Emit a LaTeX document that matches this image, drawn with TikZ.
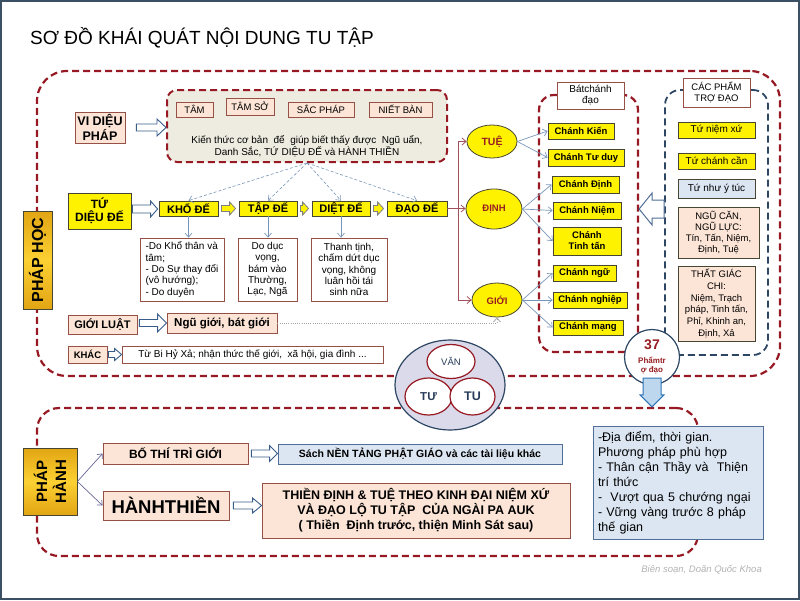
\documentclass[tikz,border=0pt]{standalone}
\usepackage{fontspec}
\setmainfont{Liberation Sans}
\usetikzlibrary{calc,shapes.geometric,arrows.meta}
\definecolor{dred}{RGB}{150,25,35}
\definecolor{peach}{RGB}{252,228,214}
\definecolor{pbrd}{RGB}{150,80,70}
\definecolor{ybrd}{RGB}{70,70,50}
\definecolor{lblue}{RGB}{220,230,242}
\definecolor{bbrd}{RGB}{80,110,150}
\definecolor{navy}{RGB}{45,70,100}
\definecolor{ablue}{RGB}{56,93,138}
\definecolor{agray}{RGB}{120,150,185}
\definecolor{mauve}{RGB}{160,80,90}
\definecolor{innerfill}{RGB}{238,236,225}
\definecolor{lav}{RGB}{218,218,234}
\definecolor{gold1}{RGB}{226,165,20}
\definecolor{gold2}{RGB}{252,208,50}
\definecolor{frameblue}{RGB}{60,80,100}
\definecolor{txtred}{RGB}{150,30,35}
\definecolor{txtblue}{RGB}{40,60,90}
\definecolor{arrlb}{RGB}{189,215,238}
\definecolor{arrlbd}{RGB}{46,117,182}
\newcommand\fsz[2]{\fontsize{#1}{#2}\selectfont}
% hollow block arrows: [style]{from}{to}{shaft half}{head half}{head length}
\newcommand\hollowR[6][]{%
  \draw[#1] let \p1=#2, \p2=#3 in
  (\x1,{\y1+#4}) -- ({\x2-#6},{\y1+#4}) -- ({\x2-#6},{\y1+#5}) -- (\x2,\y1)
  -- ({\x2-#6},{\y1-#5}) -- ({\x2-#6},{\y1-#4}) -- (\x1,{\y1-#4}) -- cycle;}
\newcommand\hollowL[6][]{%
  \draw[#1] let \p1=#2, \p2=#3 in
  (\x1,{\y1+#4}) -- ({\x2+#6},{\y1+#4}) -- ({\x2+#6},{\y1+#5}) -- (\x2,\y1)
  -- ({\x2+#6},{\y1-#5}) -- ({\x2+#6},{\y1-#4}) -- (\x1,{\y1-#4}) -- cycle;}
\newcommand\hollowD[6][]{%
  \draw[#1] let \p1=#2, \p2=#3 in
  ({\x1-#4},\y1) -- ({\x1-#4},{\y2+#6}) -- ({\x1-#5},{\y2+#6}) -- (\x1,\y2)
  -- ({\x1+#5},{\y2+#6}) -- ({\x1+#4},{\y2+#6}) -- ({\x1+#4},\y1) -- cycle;}
\begin{document}
\begin{tikzpicture}[x=1pt,y=-1pt,
  every node/.style={inner sep=0pt, align=center},
  sz/.style 2 args={minimum width=#1pt, minimum height=#2pt},
  peachbox/.style={draw=pbrd, fill=peach, line width=0.8pt},
  ybox/.style={draw=ybrd, fill=yellow, line width=0.8pt},
  wbox/.style={draw=pbrd, fill=white, line width=0.8pt},
  bbox/.style={draw=bbrd, fill=lblue, line width=0.8pt},
  redframe/.style={draw=dred, line width=2.2pt, dash pattern=on 7pt off 4pt},
  blueframe/.style={draw=navy, line width=1.8pt, dash pattern=on 7pt off 4pt},
  hollowblue/.style={draw=ablue, fill=white, line width=0.9pt, line join=miter},
  hollowyel/.style={draw=gray, fill=yellow, line width=0.8pt},
  hollowlb/.style={draw=arrlbd, fill=arrlb, line width=1pt},
  thinarrow/.style={draw=agray, line width=0.7pt, -{Straight Barb[length=4pt,width=7pt]}},
  dasharrow/.style={draw=agray, line width=0.6pt, dash pattern=on 3pt off 2pt, -{Straight Barb[length=4pt,width=7pt]}},
  mauvearrow/.style={draw=mauve, line width=0.8pt, -{Straight Barb[length=4pt,width=7pt]}},
  dotarrow/.style={draw=gray!70, line width=0.8pt, dash pattern=on 1pt off 1.2pt, -{Straight Barb[length=4pt,width=7pt]}},
  grayline/.style={draw=gray!80!blue, line width=0.7pt, -{Straight Barb[length=4pt,width=7pt]}},
  yell/.style={ellipse, draw=ybrd, fill=yellow, line width=0.8pt, text=txtred},
  goldbox/.style={draw=ybrd, line width=0.8pt, top color=gold1, bottom color=gold1, middle color=gold2},
  ring/.style={ellipse, draw=dred, fill=white, line width=1.2pt, text=txtblue}
]
\useasboundingbox (0,0) rectangle (800,600);
\draw[frameblue, line width=1.5pt] (1,1) rectangle (799,599);

\node[anchor=base west, font=\fsz{19}{22}] (title) at (30,44) {SƠ ĐỒ KHÁI QUÁT NỘI DUNG TU TẬP};

% frames
\node[redframe, sz={743}{305}, rounded corners=30pt] (f1) at (408.5,223.5) {};
\node[redframe, sz={661}{148}, rounded corners=22pt] (f2) at (367.5,482) {};

% VAN TU TU
\node[ellipse, draw=navy, fill=lav, line width=1.2pt, sz={110}{90}] (vtt) at (450,385) {};
\node[ring, sz={48}{34}, font=\fsz{9.5}{10}] (van) at (451,361.5) {VĂN};
\node[ring, sz={47}{37}, font=\fsz{11.5}{12}\bfseries] (tu1) at (428.5,396.5) {TƯ};
\node[ring, sz={45}{37}, font=\fsz{12.5}{13}\bfseries] (tu2) at (472.5,396.5) {TU};

% VI DIEU PHAP
\node[peachbox, sz={50}{31}, font=\fsz{12.5}{13}\bfseries] (vdp) at (100,127.5) {VI DIỆU\\PHÁP};
\node[redframe, fill=innerfill, line width=2pt, sz={280}{72}, rounded corners=10pt] (inner) at (307,126) {};
\node[peachbox, sz={37}{15}, font=\fsz{9.5}{10}] (tam) at (194.5,109.5) {TÂM};
\node[peachbox, sz={48}{17}, font=\fsz{9.5}{10}] (tamso) at (250,106.5) {TÂM SỞ};
\node[peachbox, sz={66}{15}, font=\fsz{9.5}{10}] (sac) at (321,109.5) {SẮC PHÁP};
\node[peachbox, sz={63}{15}, font=\fsz{9.5}{10}] (niet) at (400.5,109.5) {NIẾT BÀN};
\node[font=\fsz{10}{11}] (kt) at (307,146) {Kiến thức cơ bản\ \ để\ \ giúp biết thấy được\ \ Ngũ uẩn,\\Danh Sắc, TỨ DIỆU ĐẾ và HÀNH THIỀN};
\hollowR[hollowblue]{($(vdp.east)+(11,0)$)}{(inner.west)}{3.5pt}{8.5pt}{9pt}

% TU DIEU DE
\node[ybox, sz={63}{36}, font=\fsz{12}{13}\bfseries] (tdd) at (99.5,211) {TỨ\\DIỆU ĐẾ};
\node[ybox, sz={59}{15}, font=\fsz{11}{12}\bfseries] (khode) at (188.5,208.5) {KHỔ ĐẾ};
\node[ybox, sz={58}{15}, font=\fsz{11}{12}\bfseries] (tapde) at (268,208.5) {TẬP ĐẾ};
\node[ybox, sz={58}{15}, font=\fsz{11}{12}\bfseries] (dietde) at (341,208.5) {DIỆT ĐẾ};
\node[ybox, sz={60}{15}, font=\fsz{11}{12}\bfseries] (daode) at (417,208.5) {ĐẠO ĐẾ};
\hollowR[hollowblue]{($(tdd.east)+(1,-2)$)}{($(khode.west)+(-1,0)$)}{4pt}{8pt}{7pt}
\hollowR[hollowyel]{($(khode.east)+(3,0)$)}{($(tapde.west)+(-3,0)$)}{3pt}{6.5pt}{6pt}
\hollowR[hollowyel]{($(tapde.east)+(3,0)$)}{($(dietde.west)+(-3,0)$)}{3pt}{6.5pt}{6pt}
\hollowR[hollowyel]{($(dietde.east)+(3,0)$)}{($(daode.west)+(-3,0)$)}{3pt}{6.5pt}{6pt}

\draw[dasharrow] (inner.south) -- (khode.north);
\draw[dasharrow] (inner.south) -- (tapde.north);
\draw[dasharrow] (inner.south) -- (dietde.north);
\draw[dasharrow] (inner.south) -- (daode.north);

\node[wbox, sz={84}{63}, font=\fsz{10}{11.3}, align=left] (b1) at (182,269.5) {-Do Khổ thân và\\tâm;\\- Do Sự thay đổi\\(vô hướng);\\- Do duyên};
\node[wbox, sz={59}{63}, font=\fsz{10}{11.3}] (b2) at (267.5,269.5) {Do dục\\vọng,\\bám vào\\Thường,\\Lạc, Ngã};
\node[wbox, sz={76}{63}, font=\fsz{10}{11.3}] (b3) at (349,269.5) {Thanh tịnh,\\chấm dứt dục\\vọng, không\\luân hồi tái\\sinh nữa};
\draw[thinarrow] (khode.south) -- (khode.south |- b1.north);
\draw[thinarrow] (tapde.south) -- (tapde.south |- b2.north);
\draw[thinarrow] (dietde.south) -- (dietde.south |- b3.north);

% TUE DINH GIOI
\node[yell, sz={50}{33}, font=\fsz{10.5}{11}\bfseries] (tue) at (492,141.5) {TUỆ};
\node[yell, sz={56}{40}, font=\fsz{9.5}{10}\bfseries] (dinh) at (494,209) {ĐỊNH};
\node[yell, sz={50}{34}, font=\fsz{9.5}{10}\bfseries] (gioi) at (497,300) {GIỚI};
\coordinate (bus) at ($(daode.east)+(11,0)$);
\draw[mauvearrow] (daode.east) -- (daode.east -| dinh.west);
\draw[mauvearrow] (bus) |- (tue.west);
\draw[mauvearrow] (bus) |- (gioi.west);

% Bat chanh dao
\node[redframe, sz={99}{257}, rounded corners=15pt] (bcd) at (588.5,223.5) {};
\node[wbox, sz={67}{27}, font=\fsz{10}{11}] (bcdlbl) at (590.5,95.5) {Bátchánh\\đạo};
\node[ybox, sz={66}{16}, font=\fsz{9.5}{10}\bfseries] (ck) at (581,131) {Chánh Kiến};
\node[ybox, sz={76}{17}, font=\fsz{9.5}{10}\bfseries] (ctd) at (586,157.5) {Chánh Tư duy};
\node[ybox, sz={67}{17}, font=\fsz{9.5}{10}\bfseries] (cd) at (585.5,184.5) {Chánh Định};
\node[ybox, sz={68}{17}, font=\fsz{9.5}{10}\bfseries] (cn) at (587,210.5) {Chánh Niệm};
\node[ybox, sz={68}{28}, font=\fsz{9.5}{11}\bfseries] (ctt) at (587,241) {Chánh\\Tinh tấn};
\node[ybox, sz={63}{16}, font=\fsz{9.5}{10}\bfseries] (cng) at (584.5,273) {Chánh ngữ};
\node[ybox, sz={74}{16}, font=\fsz{9.5}{10}\bfseries] (cnp) at (590,300) {Chánh nghiệp};
\node[ybox, sz={70}{15}, font=\fsz{9.5}{10}\bfseries] (cm) at (588,327.5) {Chánh mạng};
\draw[thinarrow] (tue.east) -- (ck.west);
\draw[thinarrow] (tue.east) -- (ctd.west);
\draw[thinarrow] (dinh.east) -- (cd.west);
\draw[thinarrow] (dinh.east) -- (cn.west);
\draw[thinarrow] (dinh.east) -- (ctt.west);
\draw[thinarrow] (gioi.east) -- (cng.west);
\draw[thinarrow] (gioi.east) -- (cnp.west);
\draw[thinarrow] (gioi.east) -- (cm.west);

% Cac pham tro dao
\node[blueframe, sz={103}{265}, rounded corners=15pt] (cp) at (716.5,222.5) {};
\node[wbox, sz={67}{29}, font=\fsz{9.5}{11}] (cplbl) at (716.5,92.5) {CÁC PHẨM\\TRỢ ĐẠO};
\node[ybox, sz={77}{16}, font=\fsz{10}{11}] (tnx) at (716.5,130) {Tứ niệm xứ};
\node[ybox, sz={77}{16}, font=\fsz{10}{11}] (tcc) at (716.5,161) {Tứ chánh cần};
\node[bbox, draw=ybrd, sz={77}{19}, font=\fsz{10}{11}] (tnyt) at (716.5,188.5) {Tứ như ý túc};
\node[peachbox, draw=ybrd, sz={81}{51}, font=\fsz{9.5}{11}] (ngucan) at (718.5,232.5) {NGŨ CĂN,\\NGŨ LỰC:\\Tín, Tấn, Niệm,\\Định, Tuệ};
\node[peachbox, draw=ybrd, sz={77}{75}, font=\fsz{9.5}{11.7}] (thatgiac) at (716.5,303.5) {THẤT GIÁC\\CHI:\\Niệm, Trạch\\pháp, Tinh tấn,\\Phỉ, Khinh an,\\Định, Xả};
\hollowL[draw=bbrd, fill=white, line width=1pt]{($(cp.west)+(0,-13.5)$)}{(bcd.east)}{9pt}{16pt}{13pt}

% Gioi luat, khac
\node[peachbox, sz={69}{19}, font=\fsz{11}{12}\bfseries] (gl) at (102.5,324.5) {GIỚI LUẬT};
\node[peachbox, sz={110}{20}, font=\fsz{11.5}{12}\bfseries] (ngg) at (222,323) {Ngũ giới, bát giới};
\hollowR[hollowblue]{($(gl.east)+(2,-1.5)$)}{(ngg.west)}{3.5pt}{9pt}{9pt}
\draw[dotarrow] (ngg.east) -| (gioi.south);
\node[peachbox, sz={39}{17}, font=\fsz{9.5}{10}\bfseries] (khac) at (87.5,354.5) {KHÁC};
\node[wbox, sz={261}{17}, font=\fsz{10}{11}] (tubi) at (252.5,354.5) {Từ Bi Hỷ Xả; nhận thức thế giới,\ \ xã hội, gia đình ...};
\hollowR[hollowblue]{($(khac.east)+(1,0)$)}{(tubi.west)}{3pt}{6pt}{7pt}

% 37
\node[circle, draw=navy, fill=white, line width=1.2pt, sz={55}{55}] (c37) at (652,357) {};
\node[text=txtred, font=\fsz{14}{15}\bfseries] (n37) at (652,345) {37};
\node[text=txtred, font=\fsz{8}{9}\bfseries] (p37) at (652,365) {Phẩmtr\\ợ đạo};
\hollowD[hollowlb]{($(c37.south)+(0,-7)$)}{(c37.south |- f2.north)}{9pt}{12pt}{12pt}

% Phap hanh
\node[bbox, sz={170}{113}, text width=160pt, align=left, font=\fsz{12.5}{15}] (plan) at (678,482.5) {-Địa điểm, thời gian.\\Phương pháp phù hợp\\- Thân cận Thầy và\ \ Thiện\\trí thức\\-\ \ Vượt qua 5 chướng ngại\\- Vững vàng trước 8 pháp\\thế gian};
\node[peachbox, sz={145}{21}, font=\fsz{12}{13}\bfseries] (bothi) at (175.5,453.5) {BỐ THÍ TRÌ GIỚI};
\node[bbox, sz={284}{20}, font=\fsz{10.5}{11}\bfseries] (sach) at (420,454) {Sách NỀN TẢNG PHẬT GIÁO và các tài liệu khác};
\node[peachbox, sz={126}{29}, font=\fsz{18.5}{20}\bfseries] (ht) at (166,505.5) {HÀNHTHIỀN};
\node[peachbox, sz={308}{55}, font=\fsz{12.5}{15}\bfseries] (td) at (416,510.5) {THIỀN ĐỊNH \& TUỆ THEO KINH ĐẠI NIỆM XỨ\\VÀ ĐẠO LỘ TU TẬP\ \ CỦA NGÀI PA AUK\\( Thiền\ \ Định trước, thiện Minh Sát sau)};
\hollowR[hollowblue]{($(bothi.east)+(3,0)$)}{(sach.west)}{3.5pt}{8pt}{8pt}
\hollowR[hollowblue]{($(ht.east)+(4,0)$)}{(td.west)}{3.5pt}{7.5pt}{9pt}

% side labels
\node[goldbox, sz={98}{29}, rotate=90, font=\fsz{16}{17}\bfseries] (phoc) at (37.5,260) {PHÁP HỌC};
\node[goldbox, sz={67}{54}, rotate=90, font=\fsz{15}{19}\bfseries] (phanh) at (50,481.5) {PHÁP\\HÀNH};
\draw[grayline] (phanh.south) -- (bothi.west);
\draw[grayline] (phanh.south) -- (ht.west);

\node[anchor=base east, font=\fsz{9.5}{10}\itshape, text=gray!60] (sig) at (762,572) {Biên soạn, Doãn Quốc Khoa};
\end{tikzpicture}
\end{document}
